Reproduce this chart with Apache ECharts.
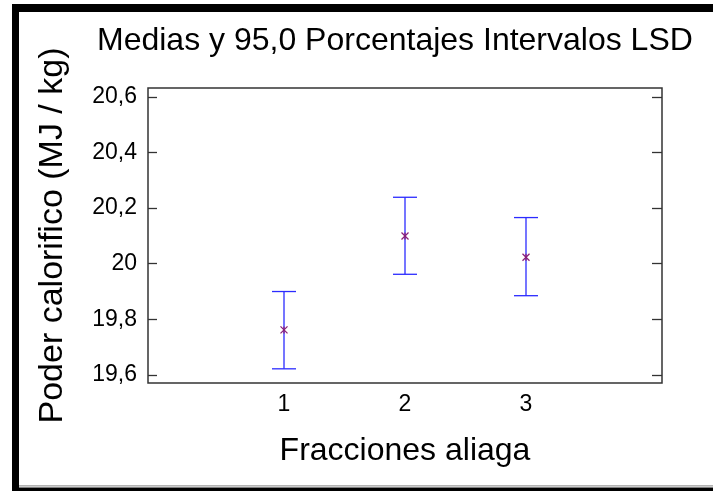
<!DOCTYPE html>
<html>
<head>
<meta charset="utf-8">
<script src="https://cdn.jsdelivr.net/npm/echarts@6/dist/echarts.min.js"></script>
<style>
  html, body { margin: 0; padding: 0; background: #fff; }
  #chart { width: 713px; height: 491px; }
</style>
</head>
<body>
<div id="chart"></div>
<script>
// Group levels and LSD interval limits (95 %)
const categories = [1, 2, 3];
const means = [19.762, 20.100, 20.023];
const lowerLimits = [19.622, 19.962, 19.885];
const upperLimits = [19.900, 20.239, 20.166];
const yTicks = [19.6, 19.8, 20.0, 20.2, 20.4, 20.6];

const FONT = '"Liberation Sans", Arial, sans-serif';
const fmtComma = v => String(Math.round(v * 10) / 10).replace('.', ',');

const intervalData = categories.map((c, i) => [c, lowerLimits[i], upperLimits[i], means[i]]);

const barStyle = { stroke: '#2b2bff', lineWidth: 1.3 };
const markStyle = { stroke: '#8a1f78', lineWidth: 1.3 };

function renderInterval(params, api) {
  const x = api.value(0);
  const lo = api.coord([x, api.value(1)]);
  const hi = api.coord([x, api.value(2)]);
  const mid = api.coord([x, api.value(3)]);
  const cap = 12, m = 3.5;
  return {
    type: 'group',
    children: [
      { type: 'line', shape: { x1: lo[0], y1: lo[1], x2: hi[0], y2: hi[1] }, style: barStyle },
      { type: 'line', shape: { x1: lo[0] - cap, y1: lo[1], x2: lo[0] + cap, y2: lo[1] }, style: barStyle },
      { type: 'line', shape: { x1: hi[0] - cap, y1: hi[1], x2: hi[0] + cap, y2: hi[1] }, style: barStyle },
      { type: 'line', shape: { x1: mid[0] - m, y1: mid[1] - m, x2: mid[0] + m, y2: mid[1] + m }, style: markStyle },
      { type: 'line', shape: { x1: mid[0] - m, y1: mid[1] + m, x2: mid[0] + m, y2: mid[1] - m }, style: markStyle },
      { type: 'line', shape: { x1: mid[0], y1: mid[1] - m, x2: mid[0], y2: mid[1] + m }, style: markStyle }
    ]
  };
}

const chart = echarts.init(document.getElementById('chart'), null, { renderer: 'canvas' });

const yCommon = {
  type: 'value',
  min: 19.571,
  max: 20.632,
  axisLine: { show: false, onZero: false },
  splitLine: { show: false }
};

chart.setOption({
  animation: false,
  backgroundColor: '#fff',
  title: {
    text: 'Medias y 95,0 Porcentajes Intervalos LSD',
    left: 97,
    top: 25,
    padding: 0,
    textStyle: { fontFamily: FONT, fontSize: 32, fontWeight: 'normal', color: '#000' }
  },
  grid: {
    left: 148, top: 88, right: 51, bottom: 108,
    show: true, borderColor: '#333', borderWidth: 1.5, backgroundColor: 'transparent'
  },
  xAxis: {
    type: 'value',
    min: -0.124,
    max: 4.124,
    name: 'Fracciones aliaga',
    nameLocation: 'middle',
    nameGap: 52,
    nameTextStyle: { fontFamily: FONT, fontSize: 32, color: '#000' },
    axisLine: { show: false, onZero: false },
    axisTick: { show: false },
    splitLine: { show: false },
    axisLabel: {
      customValues: categories,
      margin: 10,
      fontFamily: FONT, fontSize: 23, color: '#000',
      formatter: v => String(v)
    }
  },
  yAxis: [
    Object.assign({}, yCommon, {
      position: 'left',
      name: 'Poder calorifico (MJ / kg)',
      nameLocation: 'middle',
      nameGap: 78,
      nameTextStyle: { fontFamily: FONT, fontSize: 34, color: '#000' },
      axisTick: { show: true, inside: true, length: 9, customValues: yTicks, lineStyle: { color: '#333', width: 1.3 } },
      axisLabel: {
        customValues: yTicks,
        margin: 11,
        fontFamily: FONT, fontSize: 23, color: '#000',
        formatter: fmtComma
      }
    }),
    Object.assign({}, yCommon, {
      position: 'right',
      axisTick: { show: true, inside: true, length: 10, customValues: yTicks, lineStyle: { color: '#333', width: 1.3 } },
      axisLabel: { show: false }
    })
  ],
  series: [{
    type: 'custom',
    xAxisIndex: 0,
    yAxisIndex: 0,
    renderItem: renderInterval,
    encode: { x: 0, y: [1, 2, 3] },
    data: intervalData,
    z: 5
  }],
  graphic: [
    { type: 'rect', shape: { x: 12, y: 4, width: 701, height: 8 }, style: { fill: '#000' } },
    { type: 'rect', shape: { x: 12, y: 4, width: 7, height: 487 }, style: { fill: '#000' } },
    { type: 'rect', shape: { x: 12, y: 487.5, width: 701, height: 3.5 }, style: { fill: '#000' } },
    { type: 'line', shape: { x1: 19, y1: 485.8, x2: 713, y2: 485.8 }, style: { stroke: '#9a9a9a', lineWidth: 1.2 } }
  ]
});
</script>
</body>
</html>
